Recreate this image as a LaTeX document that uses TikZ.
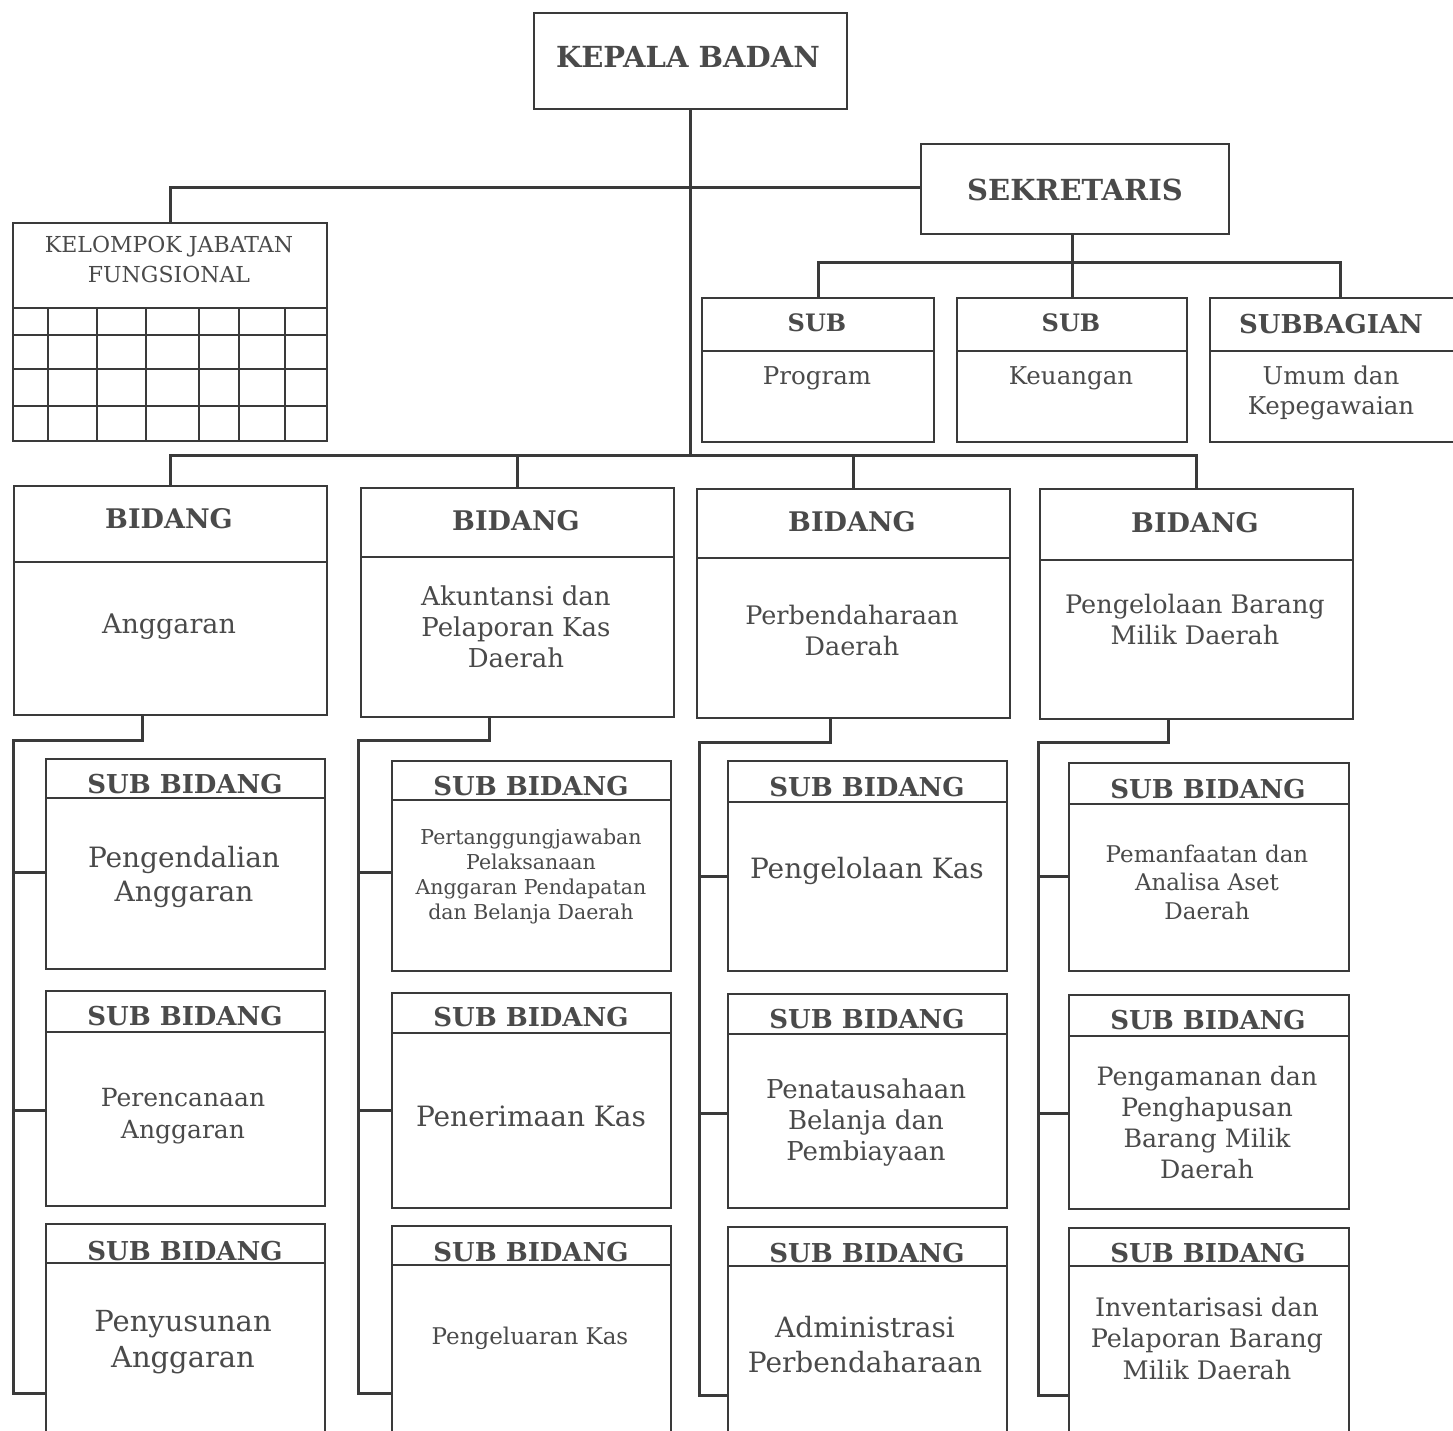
\documentclass[tikz,border=0pt]{standalone}
\usepackage{fontspec}
\setmainfont{DejaVu Serif}
\definecolor{linec}{HTML}{3A3A3A}
\definecolor{txtc}{HTML}{4A4A4A}
\newcommand{\fsz}[2]{\fontsize{#1}{#2}\selectfont}
\begin{document}
\begin{tikzpicture}[x=1pt,y=-1pt,
  box/.style={draw=linec,line width=2pt,inner sep=0pt,anchor=north west,fill=none},
  conn/.style={draw=linec,line width=3pt},
  sep/.style={draw=linec,line width=2pt},
  gridl/.style={draw=linec,line width=1.6pt},
  hdr/.style={text=txtc,font=\bfseries\fsz{26}{30},inner sep=0pt},
  txt/.style={text=txtc,align=center,inner sep=0pt}]
\clip (0,0) rectangle (1453,1430);
\fill[white] (0,0) rectangle (1453,1430);

% top
\node[box,minimum width=313pt,minimum height=96pt] (kep) at (533,12) {};
\node[hdr,font=\bfseries\fsz{29}{33}] (kept) at (688,57) {KEPALA BADAN};
\node[box,minimum width=308pt,minimum height=90pt] (sek) at (920,143) {};
\node[hdr,font=\bfseries\fsz{29}{33}] (sekt) at (1075,190) {SEKRETARIS};

% kelompok
\node[box,minimum width=314pt,minimum height=218pt] (kel) at (12,222) {};
\node[txt,font=\fsz{22}{30}] (kelt) at (169,259) {KELOMPOK JABATAN\\FUNGSIONAL};
\foreach \yy in {308,335,369,406} \draw[gridl] (kel.west |- 0,\yy) -- (kel.east |- 0,\yy);
\foreach \xx in {48,97,146,199,239,285} \draw[gridl] (\xx,308) -- (\xx,440);

% sub sekretariat
\node[box,minimum width=232pt,minimum height=144pt] (s1) at (701,297) {};
\node[box,minimum width=230pt,minimum height=144pt] (s2) at (956,297) {};
\node[box,minimum width=260pt,minimum height=144pt] (s3) at (1209,297) {};
\foreach \n in {s1,s2,s3} \draw[sep] ([yshift=-54pt]\n.north west) -- ([yshift=-54pt]\n.north east);
\node[hdr,font=\bfseries\fsz{24}{28}] (s1h) at (817,323) {SUB};
\node[hdr,font=\bfseries\fsz{24}{28}] (s2h) at (1071,323) {SUB};
\node[hdr,font=\bfseries\fsz{26}{30}] (s3h) at (1331,324) {SUBBAGIAN};
\node[txt,font=\fsz{24.5}{30}] (s1t) at (817,378) {Program};
\node[txt,font=\fsz{24.5}{30}] (s2t) at (1071,378) {Keuangan};
\node[txt,font=\fsz{24.5}{30}] (s3t) at (1331,393) {Umum dan\\Kepegawaian};

% bidang
\node[box,minimum width=313pt,minimum height=229pt] (b1) at (13,485) {};
\node[box,minimum width=313pt,minimum height=229pt] (b2) at (360,487) {};
\node[box,minimum width=313pt,minimum height=229pt] (b3) at (696,488) {};
\node[box,minimum width=313pt,minimum height=230pt] (b4) at (1039,488) {};
\draw[sep] ([yshift=-77pt]b1.north west) -- ([yshift=-77pt]b1.north east);
\draw[sep] ([yshift=-70pt]b2.north west) -- ([yshift=-70pt]b2.north east);
\draw[sep] ([yshift=-70pt]b3.north west) -- ([yshift=-70pt]b3.north east);
\draw[sep] ([yshift=-72pt]b4.north west) -- ([yshift=-72pt]b4.north east);
\node[hdr,font=\bfseries\fsz{27}{31}] (b1h) at (169,519) {BIDANG};
\node[hdr,font=\bfseries\fsz{27}{31}] (b2h) at (516,521) {BIDANG};
\node[hdr,font=\bfseries\fsz{27}{31}] (b3h) at (852,522) {BIDANG};
\node[hdr,font=\bfseries\fsz{27}{31}] (b4h) at (1195,523) {BIDANG};
\node[txt,font=\fsz{27}{31}] (b1t) at (169,627) {Anggaran};
\node[txt,font=\fsz{26}{31}] (b2t) at (516,627) {Akuntansi dan\\Pelaporan Kas\\Daerah};
\node[txt,font=\fsz{25.5}{31}] (b3t) at (852,630) {Perbendaharaan\\Daerah};
\node[txt,font=\fsz{25.5}{31}] (b4t) at (1195,619) {Pengelolaan Barang\\Milik Daerah};

% sub bidang boxes
\node[box,minimum width=279pt,minimum height=210pt] (a1) at (45,758) {};
\node[box,minimum width=279pt,minimum height=215pt] (a2) at (45,990) {};
\node[box,minimum width=279pt,minimum height=250pt] (a3) at (45,1223) {};
\node[box,minimum width=279pt,minimum height=210pt] (c1) at (391,760) {};
\node[box,minimum width=279pt,minimum height=215pt] (c2) at (391,992) {};
\node[box,minimum width=279pt,minimum height=250pt] (c3) at (391,1225) {};
\node[box,minimum width=279pt,minimum height=210pt] (d1) at (727,760) {};
\node[box,minimum width=279pt,minimum height=214pt] (d2) at (727,993) {};
\node[box,minimum width=279pt,minimum height=250pt] (d3) at (727,1226) {};
\node[box,minimum width=280pt,minimum height=208pt] (e1) at (1068,762) {};
\node[box,minimum width=280pt,minimum height=214pt] (e2) at (1068,994) {};
\node[box,minimum width=280pt,minimum height=250pt] (e3) at (1068,1227) {};
\foreach \n/\o in {a1/40,a2/42,a3/40,c1/40,c2/41,c3/40,d1/42,d2/41,d3/40,e1/42,e2/42,e3/39}
  \draw[sep] ([yshift=-\o pt]\n.north west) -- ([yshift=-\o pt]\n.north east);

\node[hdr] (a1h) at (185,784) {SUB BIDANG};
\node[hdr] (a2h) at (185,1016) {SUB BIDANG};
\node[hdr] (a3h) at (185,1251) {SUB BIDANG};
\node[hdr] (c1h) at (531,786) {SUB BIDANG};
\node[hdr] (c2h) at (531,1017) {SUB BIDANG};
\node[hdr] (c3h) at (531,1252) {SUB BIDANG};
\node[hdr] (d1h) at (867,787) {SUB BIDANG};
\node[hdr] (d2h) at (867,1019) {SUB BIDANG};
\node[hdr] (d3h) at (867,1253) {SUB BIDANG};
\node[hdr] (e1h) at (1208,789) {SUB BIDANG};
\node[hdr] (e2h) at (1208,1020) {SUB BIDANG};
\node[hdr] (e3h) at (1208,1253) {SUB BIDANG};

\node[txt,font=\fsz{28}{34}] (a1t) at (184,877) {Pengendalian\\Anggaran};
\node[txt,font=\fsz{25}{32}] (a2t) at (183,1116) {Perencanaan\\Anggaran};
\node[txt,font=\fsz{29}{36}] (a3t) at (183,1342) {Penyusunan\\Anggaran};
\node[txt,font=\fsz{20.5}{25}] (c1t) at (531,876) {Pertanggungjawaban\\Pelaksanaan\\Anggaran Pendapatan\\dan Belanja Daerah};
\node[txt,font=\fsz{28}{32}] (c2t) at (531,1116) {Penerimaan Kas};
\node[txt,font=\fsz{23}{28}] (c3t) at (530,1338) {Pengeluaran Kas};
\node[txt,font=\fsz{28}{32}] (d1t) at (867,871) {Pengelolaan Kas};
\node[txt,font=\fsz{26}{31}] (d2t) at (866,1122) {Penatausahaan\\Belanja dan\\Pembiayaan};
\node[txt,font=\fsz{28}{35}] (d3t) at (865,1345) {Administrasi\\Perbendaharaan};
\node[txt,font=\fsz{23}{28.5}] (e1t) at (1207,882) {Pemanfaatan dan\\Analisa Aset\\Daerah};
\node[txt,font=\fsz{25.3}{31}] (e2t) at (1207,1123) {Pengamanan dan\\Penghapusan\\Barang Milik\\Daerah};
\node[txt,font=\fsz{25.5}{31.5}] (e3t) at (1207,1338) {Inventarisasi dan\\Pelaporan Barang\\Milik Daerah};

% connectors top
\coordinate (busT) at (688,187);
\coordinate (busB) at (688,455);
\coordinate (busS) at (1072,262);
\draw[conn] (kep.south) -- (kep.south |- busB);
\draw[conn] (kel.north) |- (sek.west |- busT);
\draw[conn] (sek.south -| busS) -- (busS);
\draw[conn] (s1.north) -- (s1.north |- busS) -- (s3.north |- busS) -- (s3.north);
\draw[conn] (s2.north -| busS) -- (busS);
\draw[conn] (b1.north) -- (b1.north |- busB) -- (b4.north |- busB) -- (b4.north);
\draw[conn] (b2.north) -- (b2.north |- busB);
\draw[conn] (b3.north) -- (b3.north |- busB);

% column spines
\coordinate (p1t) at (13,740);  \coordinate (p1b) at (13,1393);
\coordinate (p2t) at (358,740); \coordinate (p2b) at (358,1393);
\coordinate (p3t) at (699,742); \coordinate (p3b) at (699,1395);
\coordinate (p4t) at (1038,742);\coordinate (p4b) at (1038,1395);
\draw[conn] ([xshift=129pt]b1.south west) |- (p1t) -- (p1b) -- (p1b -| a3.west);
\draw[conn] ([xshift=129pt]b2.south west) |- (p2t) -- (p2b) -- (p2b -| c3.west);
\draw[conn] ([xshift=134pt]b3.south west) |- (p3t) -- (p3b) -- (p3b -| d3.west);
\draw[conn] ([xshift=129pt]b4.south west) |- (p4t) -- (p4b) -- (p4b -| e3.west);
\draw[conn] (p1t |- 0,872) -- (a1.west |- 0,872);
\draw[conn] (p1t |- 0,1110) -- (a2.west |- 0,1110);
\draw[conn] (p2t |- 0,872) -- (c1.west |- 0,872);
\draw[conn] (p2t |- 0,1110) -- (c2.west |- 0,1110);
\draw[conn] (p3t |- 0,876) -- (d1.west |- 0,876);
\draw[conn] (p3t |- 0,1113) -- (d2.west |- 0,1113);
\draw[conn] (p4t |- 0,876) -- (e1.west |- 0,876);
\draw[conn] (p4t |- 0,1113) -- (e2.west |- 0,1113);
\end{tikzpicture}
\end{document}
